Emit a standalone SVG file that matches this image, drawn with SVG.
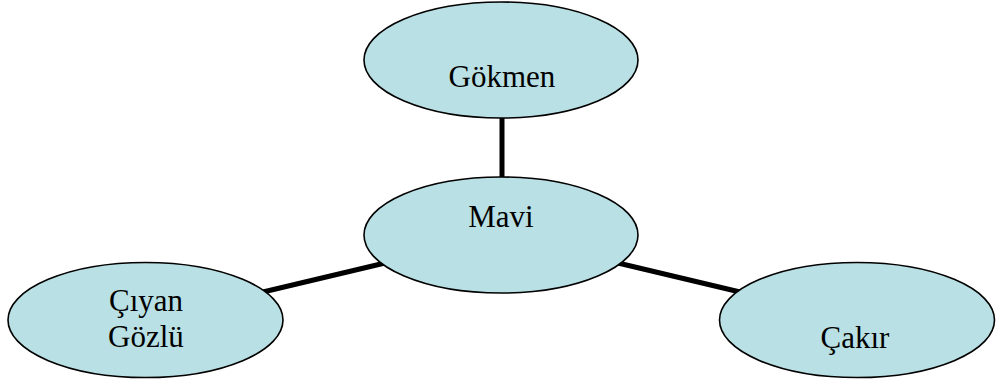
<svg xmlns="http://www.w3.org/2000/svg" width="996" height="383" viewBox="0 0 996 383">
<style>
.node{fill:#b9e0e4;stroke:#000;stroke-width:1.6}
.lbl{font-family:"Liberation Serif","Times New Roman",serif;font-size:31px;fill:#000;text-anchor:middle}
.conn{stroke:#000;stroke-width:5;fill:none}
</style>
<rect width="996" height="383" fill="#fff"/>
<g id="connectors">
<line class="conn" x1="502" y1="115" x2="502" y2="180"/>
<line class="conn" x1="263" y1="292" x2="385" y2="263"/>
<line class="conn" x1="618" y1="263" x2="740" y2="292"/>
</g>
<g id="gokmen">
<ellipse class="node" cx="501" cy="60" rx="137" ry="58"/>
<text class="lbl" x="502" y="87">Gökmen</text>
</g>
<g id="mavi">
<ellipse class="node" cx="501" cy="235" rx="137" ry="58"/>
<text class="lbl" x="501" y="227">Mavi</text>
</g>
<g id="ciyan">
<ellipse class="node" cx="145.5" cy="320" rx="137.5" ry="57.5"/>
<text class="lbl" x="146" y="311">Çıyan</text>
<text class="lbl" x="146" y="347">Gözlü</text>
</g>
<g id="cakir">
<ellipse class="node" cx="857" cy="320" rx="137.5" ry="57.5"/>
<text class="lbl" x="855" y="348">Çakır</text>
</g>
</svg>
